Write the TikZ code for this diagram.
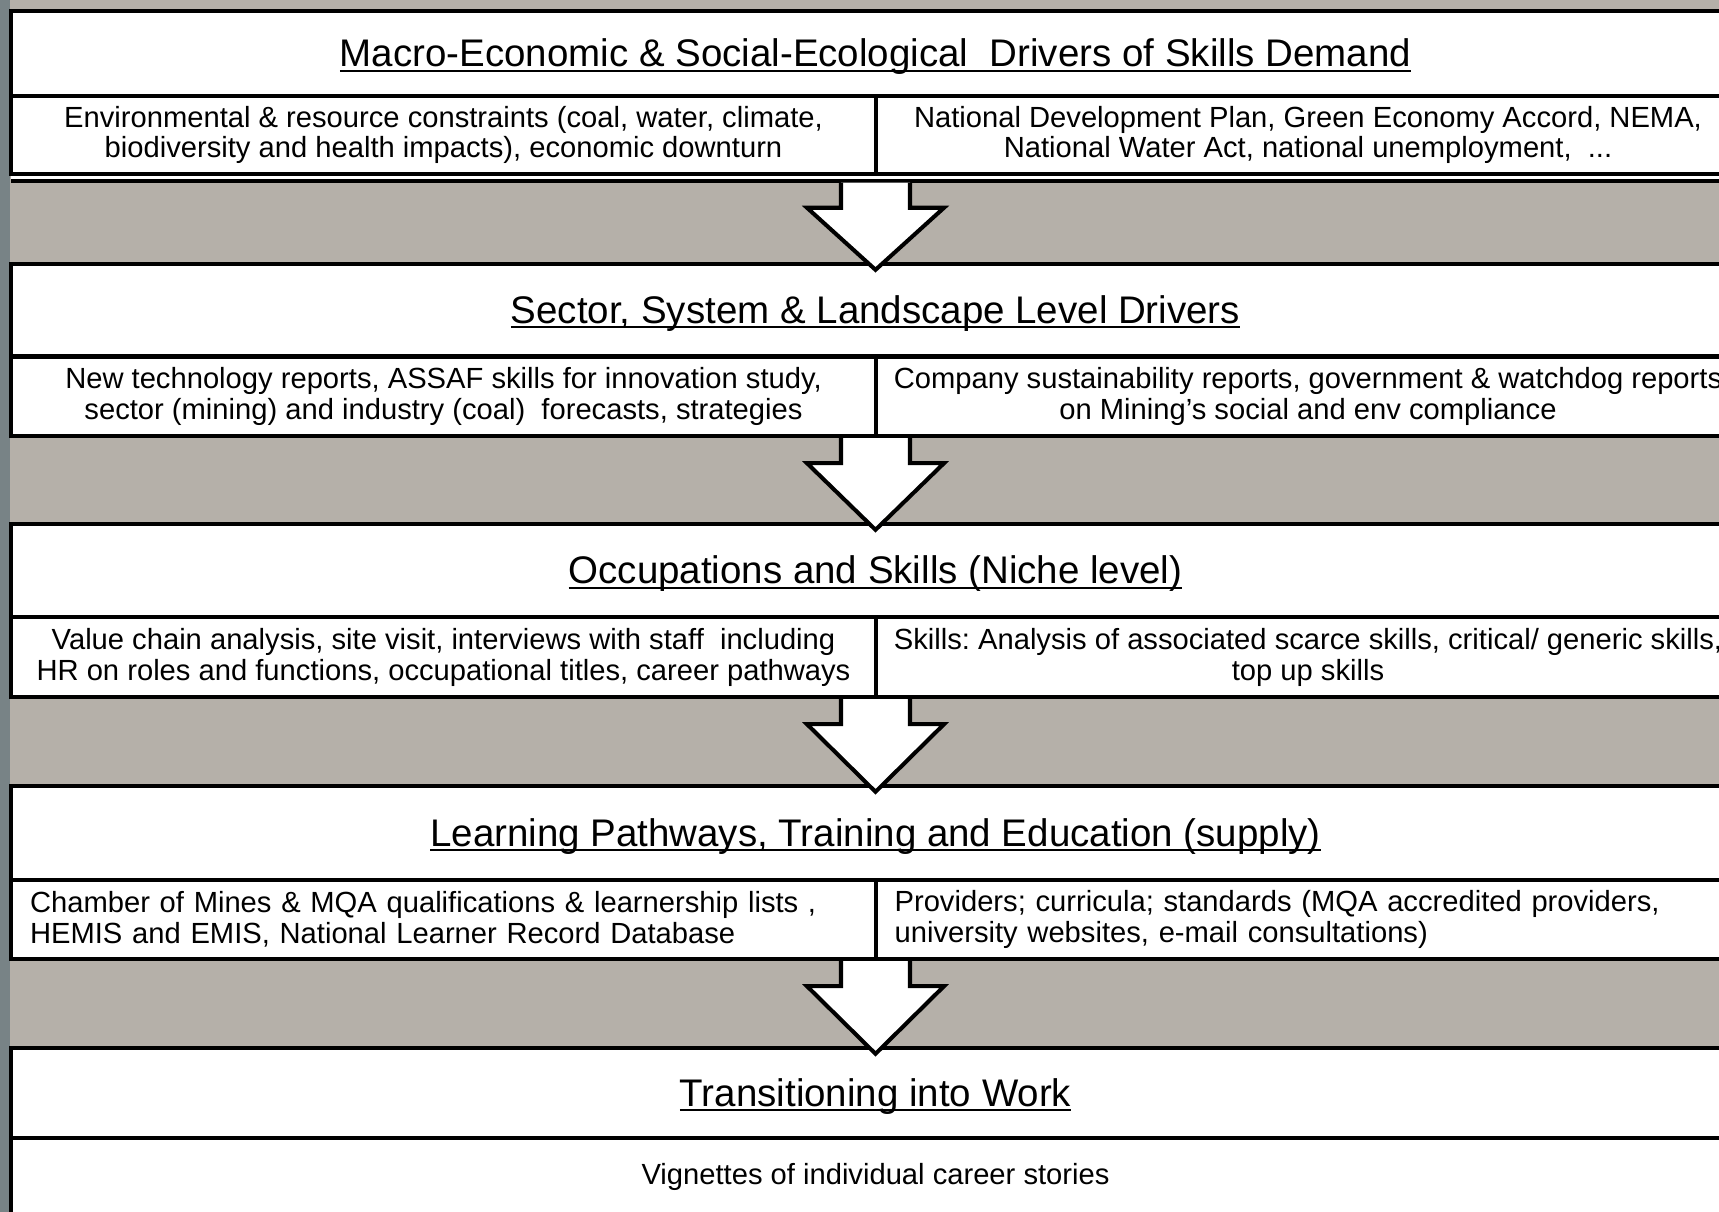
\documentclass[tikz,border=0pt]{standalone}
\usepackage{fontspec}
\setmainfont{Liberation Sans}
\usetikzlibrary{calc}

\definecolor{bandgrey}{RGB}{181,176,169}
\definecolor{edgegrey}{RGB}{120,131,134}

\frenchspacing
\newcommand{\titlefont}{\fontsize{21.9pt}{24pt}\selectfont}
\newcommand{\bodyfont}{\fontsize{16.6pt}{17.6pt}\selectfont}
\newcommand{\ulhead}[1]{\setbox0\hbox{#1}\rlap{\rule[-2.6pt]{\wd0}{1.1pt}}\box0}
% block arrow from the bottom of one level to the next title
\newcommand{\flowarrow}[2]{%
  \draw[arrowbody] ($(#1)+(-34.5,0)$) -- ($(#1)+(-34.5,25)$) -- ($(#1)+(-68.5,25)$)
    -- ($(#2)+(0,8)$) -- ($(#1)+(68.5,25)$) -- ($(#1)+(34.5,25)$) -- ($(#1)+(34.5,0)$);}

\begin{document}
\begin{tikzpicture}[x=0.02cm, y=-0.02cm,
    titlebox/.style={draw, line width=2.5pt, fill=white, minimum width=34.58cm,
        inner sep=0pt, text height=0.75cm, text depth=0.21cm, font=\titlefont},
    cellbox/.style={draw, line width=2.5pt, fill=white, inner sep=0pt,
        align=center, font=\bodyfont},
    leftcell/.style={cellbox, minimum width=17.3cm},
    rightcell/.style={cellbox, minimum width=17.28cm},
    arrowbody/.style={draw, fill=white, line width=2.3pt, line join=miter, miter limit=10}]

    \useasboundingbox (0,0) rectangle (1719,1212);
    \fill[bandgrey] (0,0) rectangle (1719,1212);
    \fill[edgegrey] (0,0) rectangle (9.5,1212);
    \clip (0,0) rectangle (1719,1212);

    % level 1
    \fill[white] (11,174) rectangle (1740,181);
    \node[titlebox, minimum height=1.70cm] (macro) at (875.5,53.5)
        {\ulhead{Macro-Economic \& Social-Ecological~ Drivers of Skills Demand}};
    \node[leftcell, minimum height=1.56cm] (envl) at (443.5,135)
        {Environmental \& resource constraints (coal, water, climate,\\ biodiversity and health impacts), economic downturn};
    \node[rightcell, minimum height=1.56cm] (ndpr) at (1308,135)
        {National Development Plan, Green Economy Accord, NEMA,\\ National Water Act, national unemployment,~ ...};
    \coordinate (dblw) at (11,181);
    \coordinate (dble) at (1740,181);
    \draw[line width=2pt] (dblw) -- (dble);

    % level 2
    \node[titlebox, minimum height=1.84cm] (sector) at (875.5,310)
        {\ulhead{Sector, System \& Landscape Level Drivers}};
    \node[leftcell, minimum height=1.58cm] (techl) at (443.5,396.5)
        {New technology reports, ASSAF skills for innovation study,\\ sector (mining) and industry (coal)~ forecasts, strategies};
    \node[rightcell, minimum height=1.58cm] (compr) at (1308,396.5)
        {Company sustainability reports, government \& watchdog reports\\ on Mining’s social and env compliance};

    % level 3
    \node[titlebox, minimum height=1.86cm] (occup) at (875.5,570.5)
        {\ulhead{Occupations and Skills (Niche level)}};
    \node[leftcell, minimum height=1.6cm] (valuel) at (443.5,657)
        {Value chain analysis, site visit, interviews with staff~ including\\ HR on roles and functions, occupational titles, career pathways};
    \node[rightcell, minimum height=1.6cm] (skillr) at (1308,657)
        {Skills: Analysis of associated scarce skills, critical/ generic skills,\\ top up skills};

    % level 4
    \node[titlebox, minimum height=1.88cm] (learn) at (875.5,833)
        {\ulhead{Learning Pathways, Training and Education (supply)}};
    \node[leftcell, minimum height=1.58cm, text width=16.54cm, align=left] (chamberl) at (443.5,919.5)
        {Chamber of Mines \& MQA qualifications \& learnership lists ,\\ HEMIS and EMIS, National Learner Record Database};
    \node[rightcell, minimum height=1.58cm, text width=16.54cm, align=left] (provr) at (1308,919.5)
        {Providers; curricula; standards (MQA accredited providers,\\ university websites, e-mail consultations)};

    % level 5
    \node[titlebox, minimum height=1.8cm] (trans) at (875.5,1093)
        {\ulhead{Transitioning into Work}};
    \node[cellbox, minimum width=34.58cm, minimum height=2.48cm] (vigrow) at (875.5,1200) {};
    \node[font=\bodyfont, inner sep=0pt] (vigtext) at (875.5,1177) {Vignettes of individual career stories};

    % arrows between the levels
    \coordinate (a1) at ($(macro |- dble)+(0,1.75)$);
    \flowarrow{a1}{sector.north}
    \flowarrow{sector |- techl.south}{occup.north}
    \flowarrow{occup |- valuel.south}{learn.north}
    \flowarrow{learn |- chamberl.south}{trans.north}
\end{tikzpicture}
\end{document}
